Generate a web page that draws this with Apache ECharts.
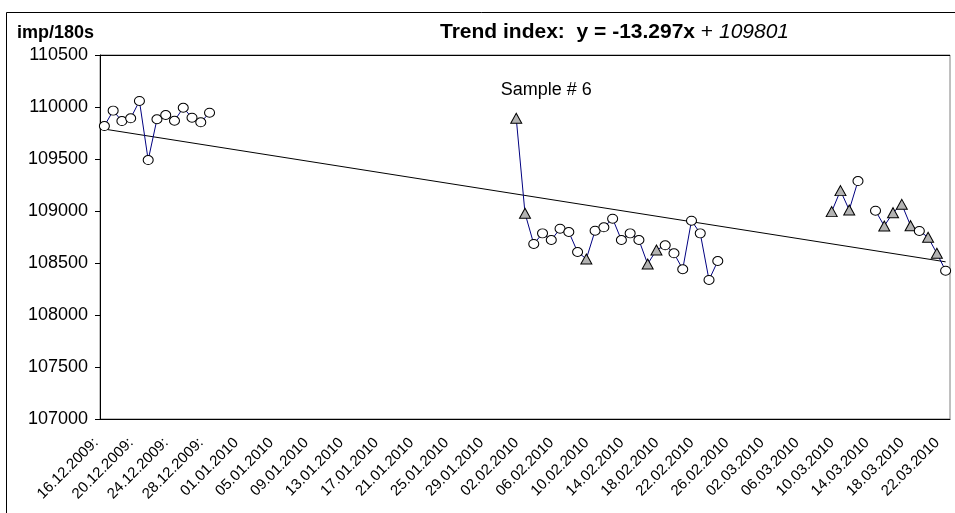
<!DOCTYPE html>
<html>
<head>
<meta charset="utf-8">
<script src="https://cdn.jsdelivr.net/npm/echarts@6/dist/echarts.min.js"></script>
<style>
html, body { margin: 0; padding: 0; background: #fff; }
#chart { width: 955px; height: 513px; }
</style>
</head>
<body>
<div id="chart"></div>
<script>
// daily categories, 16.12.2009 .. 22.03.2010
var firstDay = new Date(2009, 11, 16);
var dayCount = 97;
var days = [];
for (var d = 0; d < dayCount; d++) {
    var t = new Date(firstDay.getFullYear(), firstDay.getMonth(), firstDay.getDate() + d);
    var s = ('0' + t.getDate()).slice(-2) + '.' + ('0' + (t.getMonth() + 1)).slice(-2) + '.' + t.getFullYear();
    if (t.getFullYear() === 2009) s += ':';
    days.push(s);
}

// measured runs (start = day index)
var run1Start = 0;
var run1 = [109817, 109965, 109865, 109891, 110058, 109490, 109882, 109923, 109868, 109993, 109897, 109853, 109945];
var run2Start = 47;
var run2 = [109891, 108978, 108683, 108785, 108721, 108830, 108798, 108606, 108539, 108811, 108843, 108926,
            108721, 108785, 108721, 108490, 108625, 108670, 108593, 108440, 108907, 108785, 108337, 108519];
var run3Start = 83;
var run3 = [108994, 109196, 109010, 109288, null, 109003, 108856, 108984, 109064, 108859, 108808, 108747, 108593, 108426];

// days drawn with a triangle marker
var triangleDays = [47, 48, 55, 62, 63, 83, 84, 85, 89, 90, 91, 92, 94, 95];
var sampleDay = 47;
var sampleLabel = 'Sample # 6';

// trend given in the chart title
var trendSlope = -13.297;
var trendIntercept = 109801;

var values = [];
for (var i = 0; i < dayCount; i++) values.push(null);
[[run1Start, run1], [run2Start, run2], [run3Start, run3]].forEach(function (r) {
    r[1].forEach(function (v, k) { values[r[0] + k] = v; });
});

var seriesData = values.map(function (v, i) {
    if (v === null) return null;
    var tri = triangleDays.indexOf(i) >= 0;
    var item = {
        value: v,
        symbol: tri ? 'triangle' : 'circle',
        symbolSize: tri ? [11, 10] : [10, 9],
        itemStyle: {color: tri ? '#b3b3b3' : '#fff', borderColor: '#000', borderWidth: 1}
    };
    if (i === sampleDay) {
        item.label = {show: true, formatter: sampleLabel, position: 'top', offset: [30, -9],
            fontSize: 18, color: '#000'};
    }
    return item;
});

var trendData = [
    [0, trendIntercept + trendSlope * 1],
    [dayCount - 1, trendIntercept + trendSlope * dayCount]
];

var chart = echarts.init(document.getElementById('chart'));
var option = {
    animation: false,
    textStyle: {fontFamily: 'Liberation Sans, Arial, sans-serif'},
    title: [{
        text: 'imp/180s',
        left: 12,
        top: 19,
        textStyle: {fontSize: 18, fontWeight: 'bold', color: '#000'}
    }, {
        text: '{b|Trend index:  y = ' + trendSlope + 'x }{n|+ }{i|' + trendIntercept + '}',
        left: 435,
        top: 17,
        textStyle: {
            rich: {
                b: {fontSize: 21, fontWeight: 'bold', color: '#000'},
                n: {fontSize: 21, fontWeight: 'normal', color: '#000'},
                i: {fontSize: 21, fontWeight: 'normal', fontStyle: 'italic', color: '#000'}
            }
        }
    }],
    graphic: [{
        type: 'rect',
        shape: {x: 6.5, y: 12.5, width: 980, height: 540},
        style: {fill: null, stroke: '#000', lineWidth: 1},
        silent: true
    }, {
        type: 'line',
        shape: {x1: 100, y1: 55.5, x2: 950, y2: 55.5},
        style: {stroke: '#000', lineWidth: 1},
        z: 10,
        silent: true
    }],
    grid: {left: 100, right: 5, top: 55, bottom: 94, show: true, borderColor: '#808080', borderWidth: 1},
    xAxis: {
        type: 'category',
        data: days,
        boundaryGap: true,
        axisLine: {lineStyle: {color: '#000'}},
        axisTick: {interval: 0, length: 4, lineStyle: {color: '#333'}},
        axisLabel: {interval: 3, rotate: 45, fontSize: 15, color: '#000', margin: 13, padding: [0, 12, 0, 0]}
    },
    yAxis: {
        type: 'value',
        min: 107000,
        max: 110500,
        interval: 500,
        axisLine: {show: true, lineStyle: {color: '#000'}},
        axisTick: {show: true, length: 5, lineStyle: {color: '#000'}},
        axisLabel: {fontSize: 18, color: '#000', margin: 12, formatter: function (v) { return String(v); }},
        splitLine: {show: false}
    },
    series: [{
        type: 'line',
        data: trendData,
        symbol: 'none',
        lineStyle: {color: '#000', width: 1},
        z: 1
    }, {
        type: 'line',
        data: seriesData,
        showSymbol: true,
        showAllSymbol: true,
        connectNulls: false,
        lineStyle: {color: '#000080', width: 1},
        z: 2
    }]
};
chart.setOption(option);
</script>
</body>
</html>
